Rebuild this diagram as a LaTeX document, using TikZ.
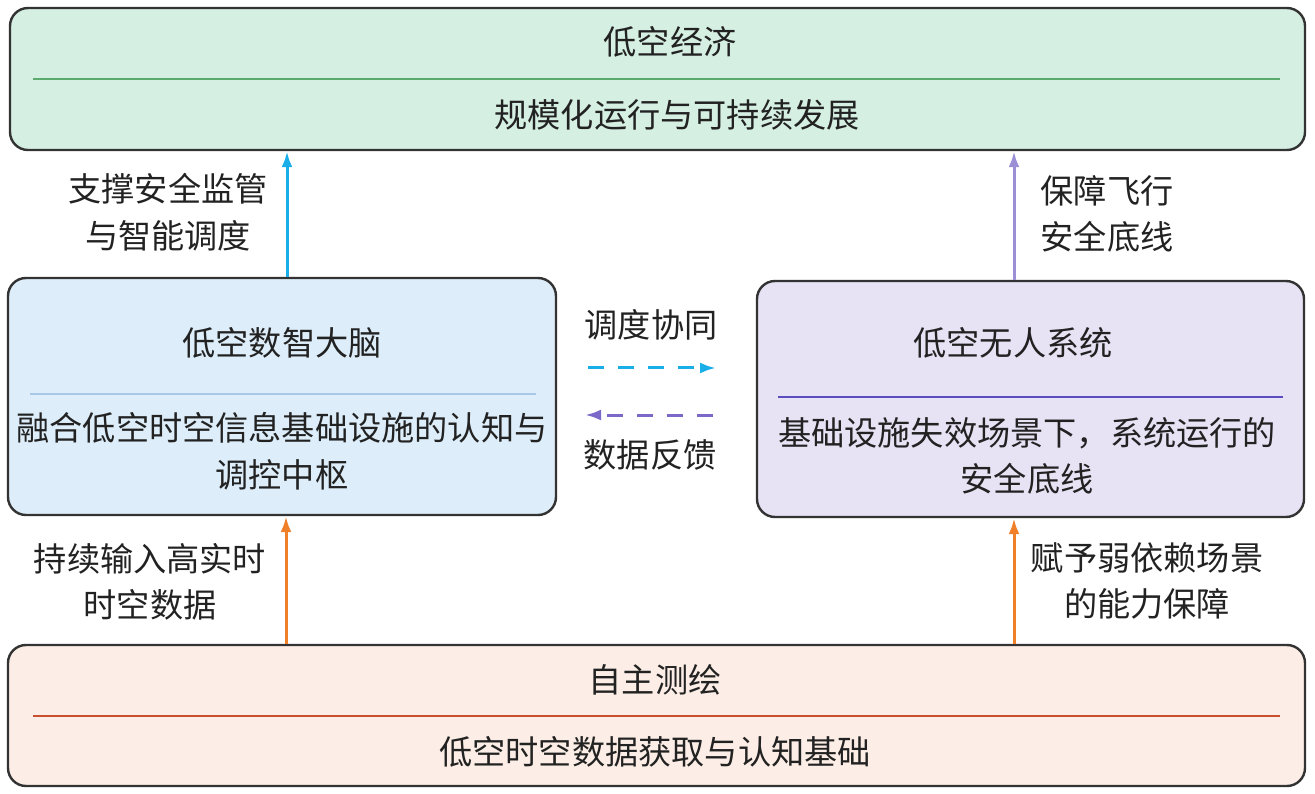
\documentclass[tikz,border=0pt]{standalone}
\usepackage{fontspec}
\setmainfont{Noto Sans CJK SC}
\usetikzlibrary{arrows.meta}
\definecolor{gfill}{HTML}{D5EFE2}
\definecolor{gline}{HTML}{5BAA6E}
\definecolor{bfill}{HTML}{DDEEFA}
\definecolor{bline}{HTML}{A9C8E8}
\definecolor{pfill}{HTML}{E7E3F4}
\definecolor{pline}{HTML}{5B4CBF}
\definecolor{ofill}{HTML}{FCEEE6}
\definecolor{oline}{HTML}{C8502E}
\definecolor{cyanarr}{HTML}{1AAEE8}
\definecolor{purarr}{HTML}{9C8FD6}
\definecolor{purdash}{HTML}{7B68C8}
\definecolor{orarr}{HTML}{F07F2A}
\definecolor{bord}{HTML}{333333}
\definecolor{txt}{HTML}{222222}
\tikzset{
  box/.style={draw=bord, line width=2.4pt, rounded corners=18pt, inner sep=0pt},
  divider/.style={line width=2.8pt},
  lbl/.style={text=txt, font=\fontsize{33.2}{46.5}\selectfont, align=center, inner sep=0pt},
  uparr/.style={line width=3pt, -{Latex[length=16pt,width=11pt]}},
  dasharr/.style={line width=3pt, dash pattern=on 16pt off 14pt, -{Latex[length=16pt,width=11pt]}}
}
\begin{document}
\begin{tikzpicture}[x=1pt,y=-1pt]
\useasboundingbox (0,0) rectangle (1315,794);
% boxes
\node[box, fill=gfill, minimum width=1295pt, minimum height=142pt] (top) at (657.5,79) {};
\node[box, fill=bfill, minimum width=548pt, minimum height=237pt] (left) at (282,396.5) {};
\node[box, fill=pfill, minimum width=547pt, minimum height=236pt] (right) at (1030.5,399) {};
\node[box, fill=ofill, minimum width=1297pt, minimum height=141pt] (bot) at (656.5,715.5) {};
% dividers
\draw[divider, gline] (33,79) -- (1280,79);
\draw[divider, bline] (30,394) -- (536,394);
\draw[divider, pline] (778,397) -- (1283,397);
\draw[divider, oline] (33,716) -- (1280,716);
% box texts
\node[lbl] (topt) at (670,42) {低空经济};
\node[lbl] (tops) at (677,115) {规模化运行与可持续发展};
\node[lbl] (leftt) at (282,343) {低空数智大脑};
\node[lbl] (lefts) at (282,451) {融合低空时空信息基础设施的认知与\\调控中枢};
\node[lbl] (rightt) at (1013,343) {低空无人系统};
\node[lbl] (rights) at (1027,456) {基础设施失效场景下，系统运行的\\安全底线};
\node[lbl] (bott) at (655,680) {自主测绘};
\node[lbl] (bots) at (655,752) {低空时空数据获取与认知基础};
% arrow coordinates
\coordinate (xa) at (287,0);
\coordinate (xb) at (1014,0);
\coordinate (xc) at (286,0);
% vertical arrows
\draw[uparr, cyanarr] (left.north -| xa) -- (top.south -| xa);
\draw[uparr, purarr] (right.north -| xb) -- (top.south -| xb);
\draw[uparr, orarr] (bot.north -| xc) -- (left.south -| xc);
\draw[uparr, orarr] (bot.north -| xb) -- (right.south -| xb);
% dashed arrows
\coordinate (d1s) at (588,368);
\coordinate (d1e) at (716,368);
\coordinate (d2s) at (713,415);
\coordinate (d2e) at (585,415);
\draw[dasharr, cyanarr] (d1s) -- (d1e);
\draw[dasharr, purdash] (d2s) -- (d2e);
% labels
\node[lbl] (la) at (168,212) {支撑安全监管\\与智能调度};
\node[lbl] (lb) at (1107,214) {保障飞行\\安全底线};
\node[lbl] (lc) at (150,582) {持续输入高实时\\时空数据};
\node[lbl] (ld) at (1147,581) {赋予弱依赖场景\\的能力保障};
\node[lbl] (le) at (651,325) {调度协同};
\node[lbl] (lf) at (650,455) {数据反馈};
\end{tikzpicture}
\end{document}
